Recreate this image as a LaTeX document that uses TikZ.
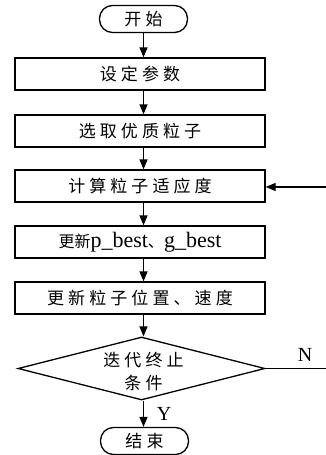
\documentclass[tikz,border=0pt]{standalone}
\usepackage{fontspec}
\setmainfont{Liberation Serif}
\newfontfamily\cjk[LetterSpace=24]{Noto Sans CJK SC}
\newfontfamily\cjkn{Noto Sans CJK SC}
\usetikzlibrary{shapes.geometric,arrows.meta}
\begin{document}
\begin{tikzpicture}[x=1pt,y=-1pt,
  lw/.style={line width=1.3pt},
  box/.style={draw, lw, minimum width=250pt, minimum height=32pt, inner sep=0pt,
    font=\cjk\fontsize{17}{18}\selectfont},
  term/.style={draw, lw, rounded corners=13pt, minimum width=88pt, minimum height=27pt,
    inner sep=0pt, font=\cjk\fontsize{17}{18}\selectfont},
  dec/.style={draw, lw, diamond, aspect=3.9, minimum width=247pt, minimum height=63pt, inner sep=0pt},
  dectext/.style={align=center, inner sep=0pt, font=\cjk\fontsize{17}{23}\selectfont},
  arr/.style={lw, -{Triangle[length=10pt,width=8pt]}},
  lbl/.style={font=\rmfamily\fontsize{20}{22}\selectfont, inner sep=0pt}]
\useasboundingbox (0,0) rectangle (326,455);
\node[term] (start) at (143.5,19) {开始};
\node[box] (b1) at (140,74) {设定参数};
\node[box] (b2) at (140,131) {选取优质粒子};
\node[box] (b3) at (140,186) {计算粒子适应度};
\node[box] (b4) at (140,242) {{\cjkn\fontsize{16}{18}\selectfont 更新}{\rmfamily\fontsize{22}{22}\selectfont p\_best}{\cjkn\fontsize{16}{18}\selectfont 、}{\rmfamily\fontsize{22}{22}\selectfont g\_best}};
\node[box] (b5) at (140,298) {更新粒子位置、速度};
\node[dec] (d) at (141.5,368.5) {};
\node[dectext] (dt) at (143.5,372) {迭代终止\\条件};
\node[term] (end) at (144.5,441) {结束};
\coordinate (fb) at (326,187);
\coordinate (ne) at (326,368.5);
\draw[arr] (start.south) -- (start.south |- b1.north);
\draw[arr] (start.south |- b1.south) -- (start.south |- b2.north);
\draw[arr] (start.south |- b2.south) -- (start.south |- b3.north);
\draw[arr] (start.south |- b3.south) -- (start.south |- b4.north);
\draw[arr] (start.south |- b4.south) -- (start.south |- b5.north);
\draw[arr] (start.south |- b5.south) -- (start.south |- d.north);
\draw[arr] (start.south |- d.south) -- (start.south |- end.north);
\draw[arr] (fb) -- (b3.east |- fb);
\draw[lw] (d.east) -- (ne);
\node[lbl] (n) at (305,355) {N};
\node[lbl] (y) at (164,414) {Y};
\end{tikzpicture}
\end{document}
